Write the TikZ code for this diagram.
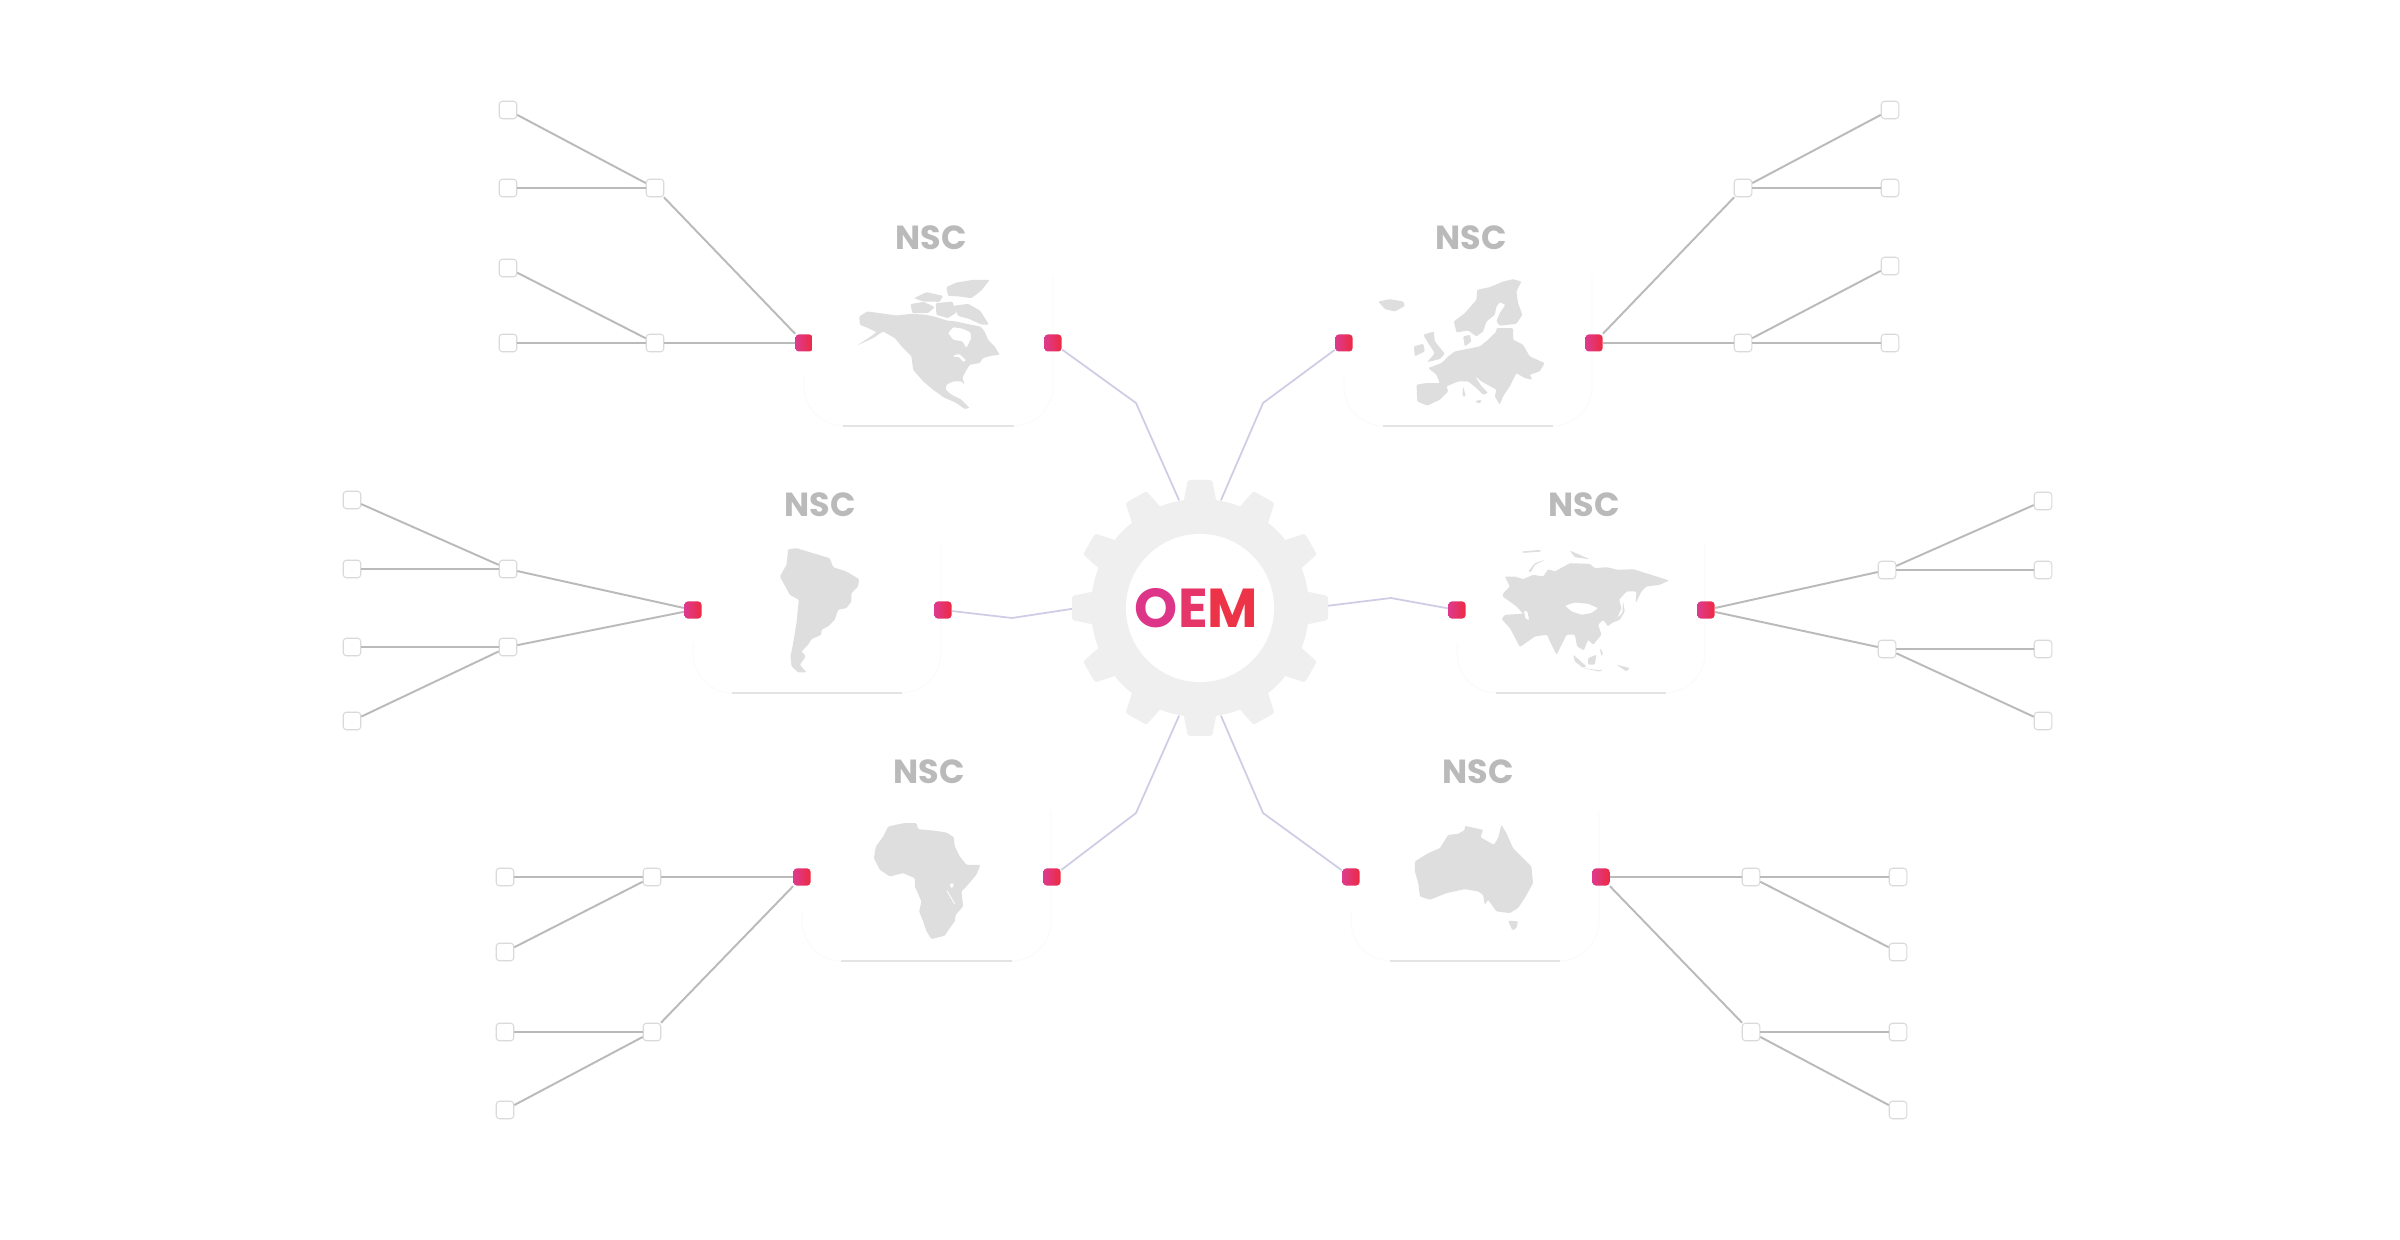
\documentclass[tikz,border=0pt]{standalone}
\usepackage{fontspec}
\setmainfont{Poppins}
\usepackage{xcolor}
\usetikzlibrary{positioning, backgrounds}
\definecolor{FeedGray}{RGB}{186,186,186}
\definecolor{LinkLilac}{RGB}{207,205,230}
\definecolor{LeafEdge}{RGB}{218,218,218}
\definecolor{GearGray}{RGB}{239,239,239}
\definecolor{MapGray}{RGB}{222,222,222}
\definecolor{CardFaint}{RGB}{251,251,251}
\definecolor{CardBase}{RGB}{228,228,228}
\definecolor{PortLeft}{RGB}{221,58,142}
\definecolor{PortRight}{RGB}{238,42,66}
\definecolor{OemO}{RGB}{221,54,136}
\definecolor{OemE}{RGB}{230,53,104}
\definecolor{OemM}{RGB}{236,51,72}
\tikzset{
  leafbox/.style={rectangle, draw=LeafEdge, line width=0.3pt, fill=white, rounded corners=0.9pt, minimum size=0.175cm, inner sep=0pt},
  portbox/.style={rectangle, left color=PortLeft, right color=PortRight, rounded corners=0.9pt, minimum size=0.17cm, inner sep=0pt},
  feed/.style={draw=FeedGray, line width=0.55pt},
  uplink/.style={draw=LinkLilac, line width=0.5pt},
  nsctitle/.style={text=FeedGray, font=\fontsize{9.5}{11}\selectfont\bfseries, inner sep=0pt},
  landmass/.style={fill=MapGray, even odd rule, rounded corners=0.3pt},
  mapcrop/.style 2 args={shift={(#1,#2)}, x=0.0033333cm, y=-0.0033333cm}
}
\begin{document}
\begin{tikzpicture}[x=0.01cm, y=-0.01cm]
  \useasboundingbox[fill=white] (0,0) rectangle (2400,1240);
  \foreach \l/\r/\b in {804/1053/426, 1344/1592/426, 693/941/693, 1457/1705/693, 802/1051/961, 1351/1599/961} {
    \draw[CardFaint, line width=0.3pt, rounded corners=0.4cm] (\r,{\b-150}) -- (\r,\b) -- ({\r-60},\b);
    \draw[CardFaint, line width=0.3pt, rounded corners=0.4cm] (\l,{\b-50}) -- (\l,\b) -- ({\l+60},\b);
    \draw[CardBase, line width=0.4pt] ({\l+39},\b) -- ({\r-39},\b);
  }
  % north america
  \begin{scope}[mapcrop={780}{200}]
    \fill[landmass] (238,350)--(262,335)--(300,340)--(350,347)--(395,342)--(440,345)--(470,352)--(500,362)--(530,365)--(560,372)--(590,378)--(602,380)--(615,395)--(625,420)--(645,440)--(660,465)--(635,468)--(610,475)--(600,490)--(570,495)--(555,520)--(548,535)--(555,555)--(545,545)--(520,545)--(500,555)--(498,570)--(515,585)--(545,600)--(570,625)--(555,628)--(530,610)--(490,592)--(460,570)--(430,545)--(400,510)--(395,470)--(370,445)--(345,415)--(310,395)--(280,415)--(232,437)--(270,412)--(290,397)--(265,385)--(240,375)--cycle
      (505,400)--(520,382)--(550,387)--(572,397)--(575,415)--(560,445)--(548,425)--(520,420)--cycle
      (520,466)--(540,463)--(560,482)--(550,487)--(538,472)--(522,472)--cycle;
    \fill[landmass] (500,262)--(530,248)--(580,240)--(630,240)--(605,272)--(575,295)--(540,290)--(505,288)--cycle;
    \fill[landmass] (522,318)--(565,312)--(602,333)--(628,375)--(605,374)--(570,358)--(535,348)--cycle;
    \fill[landmass] (392,313)--(432,306)--(465,322)--(445,340)--(398,340)--cycle;
    \fill[landmass] (403,295)--(440,277)--(490,288)--(480,306)--(430,305)--cycle;
    \fill[landmass] (468,310)--(518,305)--(530,338)--(505,355)--(470,345)--cycle;
  \end{scope}
  % europe
  \begin{scope}[mapcrop={1340}{200}]
    \fill[landmass] (115,305)--(150,298)--(190,305)--(195,318)--(165,335)--(135,328)--cycle;
    \fill[landmass] (342,365)--(375,340)--(410,300)--(412,270)--(450,262)--(490,245)--(520,238)--(545,245)--(530,275)--(535,310)--(548,345)--(530,372)--(480,378)--(470,365)--(480,340)--(497,315)--(480,307)--(470,320)--(465,345)--(440,365)--(430,395)--(410,410)--(385,392)--(350,398)--cycle;
    \fill[landmass] (345,455)--(385,447)--(420,440)--(445,420)--(470,395)--(470,385)--(520,385)--(520,420)--(550,435)--(570,470)--(615,490)--(600,515)--(570,525)--(578,540)--(555,535)--(530,520)--(510,560)--(490,590)--(480,615)--(465,590)--(470,570)--(425,545)--(405,528)--(425,560)--(445,580)--(430,585)--(410,565)--(385,545)--(355,545)--(320,560)--(325,575)--(300,600)--(262,618)--(232,605)--(230,555)--(260,550)--(300,550)--(290,525)--(265,505)--(305,490)--(325,470)--cycle;
    \fill[landmass] (370,410)--(390,405)--(395,425)--(375,440)--cycle;
    \fill[landmass] (250,405)--(282,395)--(285,425)--(315,462)--(300,478)--(262,487)--(285,460)--(265,430)--cycle;
    \fill[landmass] (222,440)--(250,432)--(255,455)--(225,470)--cycle;
    \fill[landmass] (370,560)--(378,590)--(368,590)--cycle;
    \fill[landmass] (405,605)--(425,600)--(420,612)--cycle;
  \end{scope}
  % south america
  \begin{scope}[mapcrop={700}{480}]
    \fill[landmass] (265,208)--(290,205)--(340,220)--(390,235)--(400,262)--(440,275)--(478,298)--(475,320)--(455,340)--(455,365)--(440,385)--(415,390)--(405,420)--(385,440)--(365,450)--(365,465)--(335,478)--(325,495)--(305,515)--(318,530)--(300,555)--(320,578)--(295,578)--(275,560)--(272,530)--(280,490)--(290,430)--(297,360)--(270,345)--(240,290)--(260,255)--cycle;
  \end{scope}
  % asia
  \begin{scope}[mapcrop={1460}{480}]
    \fill[landmass] (130,340)--(150,320)--(135,290)--(165,290)--(190,298)--(220,285)--(250,290)--(265,268)--(285,275)--(330,250)--(390,252)--(405,265)--(440,262)--(475,270)--(520,268)--(575,285)--(628,302)--(600,315)--(560,320)--(545,335)--(528,370)--(530,335)--(500,335)--(478,360)--(485,385)--(472,415)--(445,440)--(430,420)--(415,435)--(425,465)--(400,495)--(385,480)--(372,512)--(352,500)--(345,465)--(320,465)--(290,525)--(270,485)--(262,465)--(225,470)--(180,502)--(150,445)--(125,418)--(135,405)--(190,402)--(170,380)--(128,350)--cycle
      (315,378)--(345,368)--(385,372)--(415,385)--(395,400)--(365,405)--(335,395)--cycle
      (192,392)--(203,395)--(208,422)--(196,416)--cycle;
    \fill[landmass] (490,365)--(488,400)--(455,430)--(480,420)--(495,395)--cycle;
    \fill[landmass] (340,525)--(380,560)--(370,565)--(345,545)--cycle;
    \fill[landmass] (385,535)--(410,525)--(405,555)--(385,555)--cycle;
    \fill[landmass] (470,555)--(510,565)--(500,575)--cycle;
    \fill[landmass] (370,565)--(420,572)--(430,568)--(420,576)--cycle;
    \fill[landmass] (420,505)--(430,520)--(425,530)--cycle;
    \fill[landmass] (205,275)--(225,250)--(255,240)--(225,255)--(212,278)--cycle;
    \fill[landmass] (185,215)--(240,210)--(245,215)--(190,219)--cycle;
    \fill[landmass] (330,212)--(360,225)--(390,238)--(345,232)--cycle;
  \end{scope}
  % africa
  \begin{scope}[mapcrop={800}{750}]
    \fill[landmass] (265,230)--(310,220)--(350,220)--(355,238)--(400,242)--(440,248)--(462,262)--(465,290)--(480,320)--(500,345)--(542,345)--(530,375)--(500,410)--(485,425)--(490,470)--(468,495)--(465,515)--(450,535)--(435,558)--(395,568)--(380,545)--(370,515)--(358,485)--(365,455)--(345,410)--(345,385)--(310,370)--(270,380)--(240,360)--(222,325)--(228,290)--(250,260)--cycle
      (450,402)--(462,400)--(460,414)--(452,414)--cycle
      (438,420)--(442,420)--(468,465)--(464,465)--cycle;
  \end{scope}
  % australia
  \begin{scope}[mapcrop={1350}{750}]
    \fill[landmass] (195,335)--(235,310)--(270,295)--(295,255)--(325,252)--(345,240)--(345,228)--(400,240)--(392,262)--(432,285)--(445,265)--(455,225)--(470,250)--(490,295)--(520,325)--(545,350)--(550,400)--(525,445)--(505,475)--(480,490)--(440,485)--(415,450)--(405,465)--(400,435)--(385,425)--(345,418)--(290,430)--(240,450)--(210,440)--(205,400)--(195,365)--cycle;
    \fill[landmass] (475,513)--(505,515)--(500,535)--(488,542)--cycle;
  \end{scope}
  \foreach \r/\lx/\mx/\pa/\pb/\pc/\pd/\ma/\mb in {
    NA/508/655/110/188/268/343/188/343,
    EU/1890/1743/110/188/266/343/188/343,
    SA/352/508/500/569/647/721/569/647,
    AS/2043/1887/501/570/649/721/570/649,
    AF/505/652/877/952/1032/1110/877/1032,
    AU/1898/1751/877/952/1032/1110/877/1032} {
    \node[leafbox] (leaf\r1) at (\lx,\pa) {};
    \node[leafbox] (leaf\r2) at (\lx,\pb) {};
    \node[leafbox] (leaf\r3) at (\lx,\pc) {};
    \node[leafbox] (leaf\r4) at (\lx,\pd) {};
    \node[leafbox] (mid\r1) at (\mx,\ma) {};
    \node[leafbox] (mid\r2) at (\mx,\mb) {};
  }
  \foreach \r/\ox/\ix/\y/\tx/\ty in {
    NA/804/1053/343/931/238,
    EU/1594/1344/343/1471/238,
    SA/693/943/610/820/505,
    AS/1706/1457/610/1584/505,
    AF/802/1052/877/929/772,
    AU/1601/1351/877/1478/772} {
    \node[portbox] (out\r) at (\ox,\y) {};
    \node[portbox] (in\r) at (\ix,\y) {};
    \node[nsctitle] (nsc\r) at (\tx,\ty) {NSC};
  }
  \foreach \r in {NA,EU,SA,AS,AF,AU} {
    \draw[feed] (leaf\r1) -- (mid\r1);
    \draw[feed] (leaf\r2) -- (mid\r1);
    \draw[feed] (leaf\r3) -- (mid\r2);
    \draw[feed] (leaf\r4) -- (mid\r2);
    \draw[feed] (mid\r1) -- (out\r);
    \draw[feed] (mid\r2) -- (out\r);
  }
  \node[circle, fill=GearGray, minimum size=2.18cm, inner sep=0pt] (gear) at (1200,608) {};
  \foreach \r/\bx/\by/\ang in {
    NA/1136/403/101,
    EU/1263/403/79,
    SA/1012/618/179,
    AS/1391/598/0,
    AF/1136/813/259,
    AU/1263/813/281} {
    \coordinate (bend\r) at (\bx,\by);
    \draw[uplink] (in\r) -- (bend\r) -- (gear.\ang);
  }
  \foreach \a in {0,30,...,330} {
    \fill[GearGray, rounded corners=0.7pt, shift={(gear.center)}, rotate=\a] (100,-17) -- (109,-16) -- (128,-12) -- (128,12) -- (109,16) -- (100,17) -- cycle;
  }
  \node[circle, fill=white, minimum size=1.48cm, inner sep=0pt, font=\fontsize{15.6}{18}\selectfont\bfseries] (oem) at (gear.center) {\textcolor{OemO}{O}\textcolor{OemE}{E}\textcolor{OemM}{M}\kern0.07cm};
\end{tikzpicture}
\end{document}
